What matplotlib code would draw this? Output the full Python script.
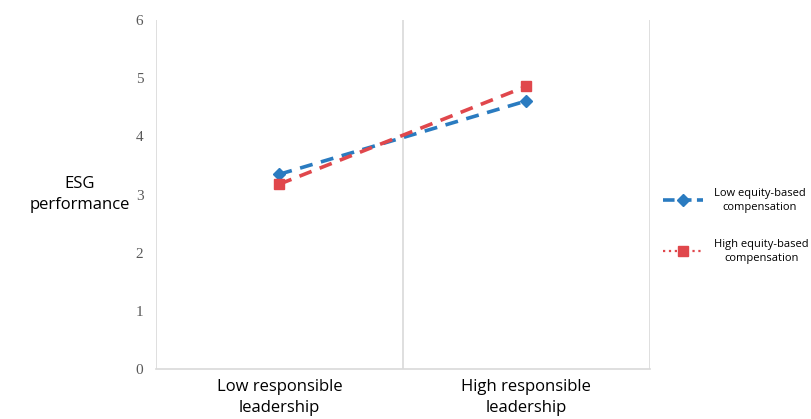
import matplotlib.pyplot as plt
from matplotlib.lines import Line2D

categories = ["Low responsible\nleadership", "High responsible\nleadership"]
low_equity = [3.35, 4.61]
high_equity = [3.18, 4.86]
series_names = ["Low equity-based\ncompensation", "High equity-based\ncompensation"]

blue = "#2a7bc0"
red = "#e0474c"
grid_c = "#d9d9d9"

fig = plt.figure(figsize=(8.12, 4.19), dpi=100)
ax = fig.add_axes([0.192, 0.119, 0.608, 0.833])

x = [0.5, 1.5]
ax.plot(x, low_equity, color=blue, lw=2.6, ls=(0, (3.6, 2.4)),
        marker="D", ms=6.5, zorder=3)
ax.plot(x, high_equity, color=red, lw=2.6, ls=(0, (3.6, 2.4)),
        marker="s", ms=7.5, zorder=4)

ax.set_xlim(0, 2)
ax.set_ylim(0, 6)
ax.set_xticks([0, 1, 2])
ax.set_xticklabels([])
ax.set_xticks(x, minor=True)
ax.set_xticklabels(categories, minor=True, fontsize=12, family="Open Sans",
                   linespacing=1.45)
ax.tick_params(axis="x", which="both", length=0, pad=7)
ax.xaxis.grid(True, which="major", color=grid_c, lw=1.2)
ax.set_yticks(range(7))
ax.set_yticklabels([str(v) for v in range(7)], family="Liberation Serif",
                   fontsize=11, color="#595959")
ax.tick_params(axis="y", length=0, pad=9)
for s in ["top", "right", "left"]:
    ax.spines[s].set_visible(False)
ax.spines["bottom"].set_color(grid_c)
ax.spines["bottom"].set_linewidth(1.2)

fig.text(0.098, 0.535, "ESG\nperformance", ha="center", va="center",
         fontsize=12, family="Open Sans", linespacing=1.4)

handles = [
    Line2D([], [], color=blue, lw=2.6, ls=(0, (3.2, 1.5)), marker="D", ms=6.5),
    Line2D([], [], color=red, lw=1.6, ls=":", marker="s", ms=7.5),
]
leg = fig.legend(handles, series_names, loc="center left",
                 bbox_to_anchor=(0.804, 0.461), frameon=False,
                 prop={"family": "Open Sans", "size": 8}, handlelength=3.6,
                 labelspacing=2.4, handletextpad=1.0)
for t in leg.get_texts():
    t.set_multialignment("center")
    t.set_linespacing(1.3)

fig.savefig("out.png", dpi=100)
